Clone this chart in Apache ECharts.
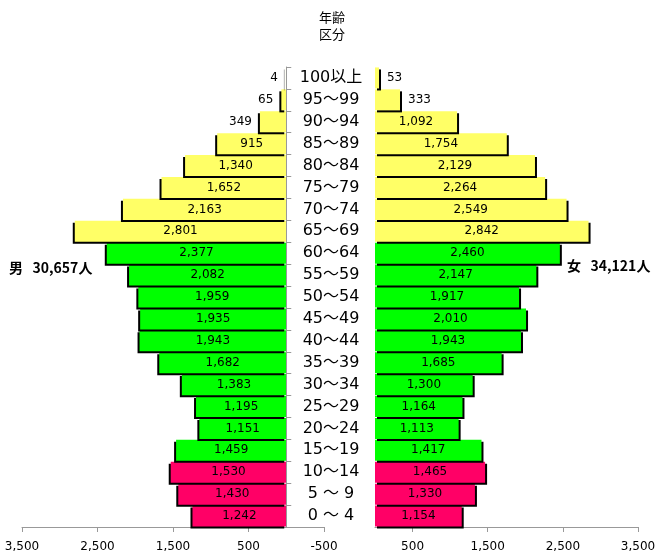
<!DOCTYPE html>
<html><head><meta charset="utf-8">
<script src="https://cdn.jsdelivr.net/npm/echarts@6/dist/echarts.min.js"></script>
<style>html,body{margin:0;padding:0;background:#fff}#c{width:659px;height:558px}</style>
</head><body><div id="c"></div>
<script>
const ageGroups = ['0 ～ 4','5 ～ 9','10～14','15～19','20～24','25～29','30～34','35～39','40～44','45～49','50～54','55～59','60～64','65～69','70～74','75～79','80～84','85～89','90～94','95～99','100以上'];
const male   = [1242,1430,1530,1459,1151,1195,1383,1682,1943,1935,1959,2082,2377,2801,2163,1652,1340,915,349,65,4];
const female = [1154,1330,1465,1417,1113,1164,1300,1685,1943,2010,1917,2147,2460,2842,2549,2264,2129,1754,1092,333,53];
const tickValues = [500,1500,2500,3500];
const maleTotal = '30,657';
const femaleTotal = '34,121';

const fmt = v => { const s = Math.abs(v).toString().replace(/\B(?=(\d{3})+(?!\d))/g, ','); return (v<0?'-':'') + s; };
const colorOf = i => i <= 2 ? '#FF0066' : (i <= 12 ? '#00FF00' : '#FFFF66');
const labelFont = {fontFamily:'DejaVu Sans', fontSize:12, color:'#000'};

function buildData(arr, outsidePos){
  return arr.map((v,i)=>({
    value: v,
    itemStyle:{color: colorOf(i)},
    label: v < 500 ? {position: outsidePos, distance: 8} : {position:'inside'}
  }));
}

const chart = echarts.init(document.getElementById('c'));
chart.setOption({
  animation:false,
  grid:[
    {left:22, right:335, top:67, bottom:31},
    {left:375, right:21, top:67, bottom:31}
  ],
  xAxis:[
    {gridIndex:0, type:'value', inverse:true, min:-500, max:3500, interval:1000,
     axisLine:{show:true, lineStyle:{color:'#999'}}, axisTick:{show:true, length:5, lineStyle:{color:'#999'}},
     splitLine:{show:false},
     axisLabel:{formatter: v=>fmt(v), margin:14, fontFamily:'DejaVu Sans', fontSize:12, color:'#000'}},
    {gridIndex:1, type:'value', min:0, max:3500, interval:500,
     axisLine:{show:true, lineStyle:{color:'#999'}},
     axisTick:{show:true, length:5, lineStyle:{color:'#999'}, customValues: tickValues},
     splitLine:{show:false},
     axisLabel:{customValues: tickValues, formatter: v=>fmt(v), margin:14, fontFamily:'DejaVu Sans', fontSize:12, color:'#000'}}
  ],
  yAxis:[
    {gridIndex:0, type:'category', data:ageGroups, position:'right', z:10,
     axisLine:{show:true, onZero:true, lineStyle:{color:'#999'}},
     axisTick:{show:true, length:5, lineStyle:{color:'#999'}},
     axisLabel:{align:'center', margin:7, fontSize:16, fontFamily:'DejaVu Sans, Noto Sans CJK JP', color:'#000'}},
    {gridIndex:1, type:'category', data:ageGroups, show:false}
  ],
  series:[
    {type:'bar', name:'男', xAxisIndex:0, yAxisIndex:0, data: buildData(male,'left'),
     barCategoryGap:'4%',
     itemStyle:{shadowColor:'#000', shadowBlur:0, shadowOffsetX:-2, shadowOffsetY:2},
     label:{show:true, formatter: p=>fmt(p.value), ...labelFont}},
    {type:'bar', name:'女', xAxisIndex:1, yAxisIndex:1, data: buildData(female,'right'),
     barCategoryGap:'4%',
     itemStyle:{shadowColor:'#000', shadowBlur:0, shadowOffsetX:2, shadowOffsetY:2},
     label:{show:true, formatter: p=>fmt(p.value), ...labelFont}}
  ],
  graphic:[
    {type:'text', left:319, top:9, style:{text:'年齢\n区分', font:'13px "Noto Sans CJK JP"', fill:'#000', lineHeight:17, align:'left'}},
    {type:'text', left:9, top:261, style:{text:'男   '+maleTotal+'人', font:'bold 14px "Noto Sans CJK JP"', fill:'#000'}},
    {type:'text', left:567, top:259, style:{text:'女   '+femaleTotal+'人', font:'bold 14px "Noto Sans CJK JP"', fill:'#000'}}
  ]
});
</script></body></html>
